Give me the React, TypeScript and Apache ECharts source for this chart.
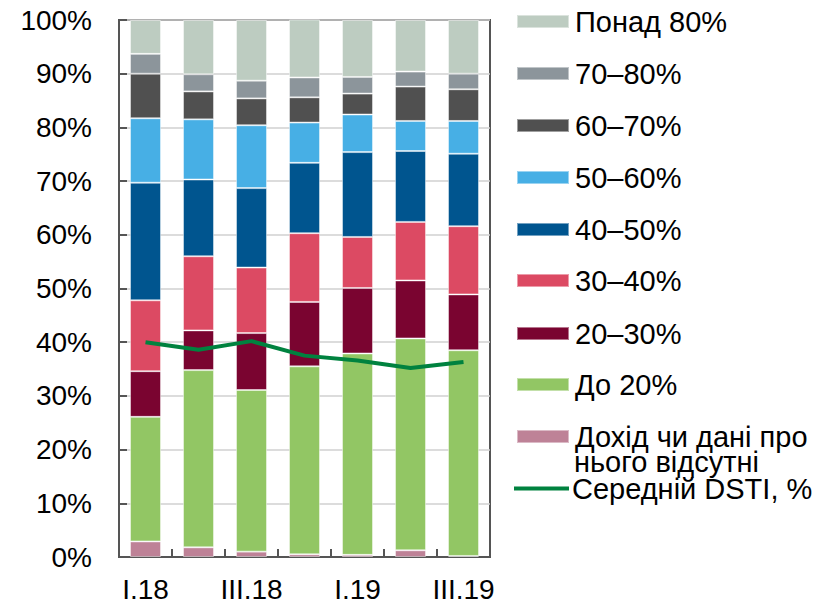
import React, { useEffect, useRef } from "react";
import * as echarts from "echarts";

const categories = ["I.18", "II.18", "III.18", "IV.18", "I.19", "II.19", "III.19"];
const noIncome = [2.9, 1.8, 1.0, 0.5, 0.4, 1.25, 0.2];
const upTo20 = [23.2, 33.0, 30.1, 35.0, 37.5, 39.45, 38.3];
const r20to30 = [8.5, 7.4, 10.6, 12.0, 12.2, 10.8, 10.4];
const r30to40 = [13.2, 13.8, 12.2, 12.8, 9.5, 10.9, 12.7];
const r40to50 = [21.9, 14.3, 14.8, 13.1, 15.8, 13.2, 13.5];
const r50to60 = [12.0, 11.2, 11.7, 7.5, 7.0, 5.6, 6.1];
const r60to70 = [8.3, 5.2, 5.0, 4.7, 3.9, 6.4, 5.9];
const r70to80 = [3.7, 3.2, 3.3, 3.7, 3.1, 2.8, 2.9];
const over80 = [6.3, 10.1, 11.3, 10.8, 10.6, 9.6, 10.0];
const avgDSTI = [40.0, 38.6, 40.2, 37.5, 36.6, 35.2, 36.3];
const yTicks = [0, 10, 20, 30, 40, 50, 60, 70, 80, 90, 100];

const barSeries = [
  { name: "Дохід чи дані про", data: noIncome, color: "#BE8297" },
  { name: "До 20%", data: upTo20, color: "#92C664" },
  { name: "20–30%", data: r20to30, color: "#7A0430" },
  { name: "30–40%", data: r30to40, color: "#DC4A63" },
  { name: "40–50%", data: r40to50, color: "#00558F" },
  { name: "50–60%", data: r50to60, color: "#47AFE5" },
  { name: "60–70%", data: r60to70, color: "#505050" },
  { name: "70–80%", data: r70to80, color: "#8C959B" },
  { name: "Понад 80%", data: over80, color: "#BDCCC1" },
];
const lineName = "Середній DSTI, %";

const FONT = "'Liberation Sans', Arial, sans-serif";
const FS = 28;
const LFS = 29;

export default function App() {
  const ref = useRef<HTMLDivElement>(null);
  useEffect(() => {
    if (!ref.current) return;
    const chart = echarts.init(ref.current, undefined, { renderer: "svg" });
    const legendOrder = [
      "Понад 80%", "70–80%", "60–70%", "50–60%", "40–50%", "30–40%", "20–30%", "До 20%", "Дохід чи дані про",
    ];
    const legendCenters = [20, 72, 124, 176, 228, 279, 332, 383, 435];
    const legends: any[] = legendOrder.map((n, i) => ({
      data: [n],
      orient: "vertical",
      left: 516,
      top: legendCenters[i] - 14,
      padding: 0,
      itemWidth: 52,
      itemHeight: 13,
      icon: "rect",
      selectedMode: false,
      textStyle: { fontFamily: FONT, fontSize: LFS, color: "#000", lineHeight: 28, padding: [3, 0, 0, 1] },
    }));
    legends.push({
      data: [{ name: lineName, icon: "rect" }],
      orient: "vertical",
      left: 514,
      top: 487 - 14,
      padding: 0,
      itemWidth: 55,
      itemHeight: 4,
      selectedMode: false,
      textStyle: { fontFamily: FONT, fontSize: LFS, color: "#000", lineHeight: 28, padding: [3, 0, 0, -2] },
    });

    chart.setOption({
      animation: false,
      grid: {
        left: 119,
        right: 344,
        top: 20,
        bottom: 46,
        show: true,
        borderColor: "#555555",
        borderWidth: 2,
      },
      legend: legends,
      graphic: [
        {
          type: "text",
          left: 574,
          top: 447,
          style: { text: "нього відсутні", font: `${LFS}px ${FONT}`, fill: "#000" },
        },
      ],
      xAxis: {
        type: "category",
        data: categories,
        axisLine: { lineStyle: { color: "#555555", width: 2 } },
        axisTick: { show: true, inside: true, length: 8, interval: 0, lineStyle: { color: "#555555", width: 2 } },
        axisLabel: { interval: 1, fontFamily: FONT, fontSize: FS, color: "#000", margin: 18 },
      },
      yAxis: {
        type: "value",
        min: yTicks[0],
        max: yTicks[yTicks.length - 1],
        interval: 10,
        axisLine: { show: true, lineStyle: { color: "#555555", width: 2 } },
        axisTick: { show: true, inside: true, length: 8, lineStyle: { color: "#555555", width: 2 } },
        axisLabel: { formatter: "{value}%", fontFamily: FONT, fontSize: FS, color: "#000", margin: 27 },
        splitLine: { show: true, lineStyle: { color: "#D0D0D0", width: 1.5 } },
      },
      series: [
        ...barSeries.map((s) => ({
          name: s.name,
          type: "bar",
          stack: "total",
          data: s.data,
          barWidth: 31,
          itemStyle: { color: s.color, borderColor: "rgba(255,255,255,0.45)", borderWidth: 1 },
        })),
        {
          name: lineName,
          type: "line",
          data: avgDSTI,
          symbol: "none",
          z: 5,
          lineStyle: { color: "#00823F", width: 4 },
          itemStyle: { color: "#00823F" },
        },
      ],
    });
    return () => chart.dispose();
  }, []);
  return <div ref={ref} style={{ width: 834, height: 603, position: "absolute", left: 0, top: 0 }} />;
}
